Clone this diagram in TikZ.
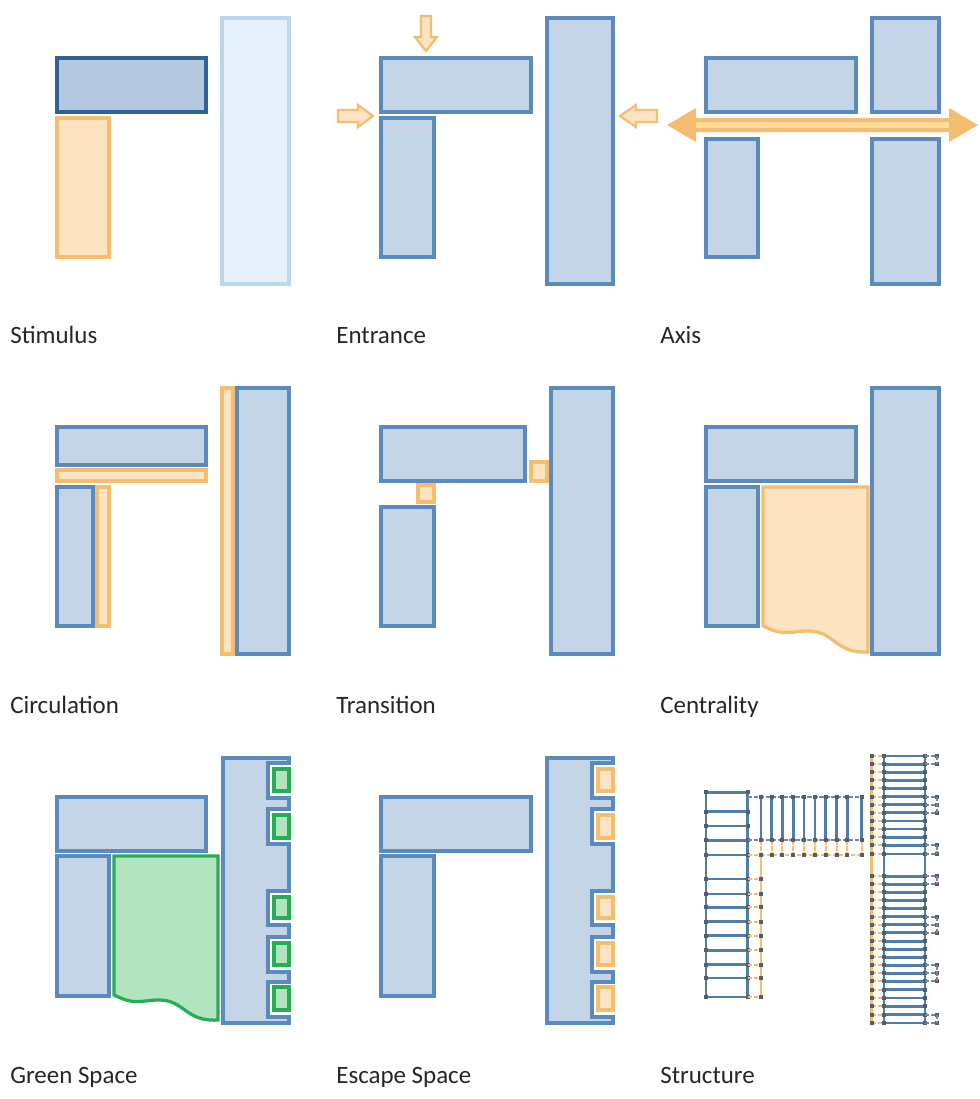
\documentclass[tikz,border=0pt]{standalone}
\usepackage{fontspec}
\setmainfont[Ligatures=Common]{Carlito}
\definecolor{wingfill}{HTML}{C5D5E8}
\definecolor{wingline}{HTML}{5B8BBA}
\definecolor{darkline}{HTML}{2F6299}
\definecolor{darkfill}{HTML}{B4C8E0}
\definecolor{palefill}{HTML}{E6F0FA}
\definecolor{paleline}{HTML}{BCD6EE}
\definecolor{orangefill}{HTML}{FCE3C1}
\definecolor{orangeline}{HTML}{F5BD6F}
\definecolor{axisband}{HTML}{FDDC9C}
\definecolor{greenfill}{HTML}{B2E4C0}
\definecolor{greenline}{HTML}{27AE55}
\definecolor{piercolor}{HTML}{4F5F70}
\begin{document}
\begin{tikzpicture}[
    x=0.02cm, y=-0.02cm,
    wing/.style={draw=wingline, fill=wingfill, line width=1.85pt},
    focus/.style={draw=darkline, fill=darkfill, line width=1.85pt},
    pale/.style={draw=paleline, fill=palefill, line width=1.85pt},
    warm/.style={draw=orangeline, fill=orangefill, line width=1.85pt},
    garden/.style={draw=greenline, fill=greenfill, line width=1.85pt},
    caption/.style={anchor=base west, inner sep=0pt, font=\fontsize{14.2}{17}\selectfont, text=black!85},
    beam/.style={wingline!90!black, line width=1.35pt},
    beamwarm/.style={orangeline, line width=1.35pt},
    tie/.style={piercolor!75, line width=1.1pt, dash pattern=on 2.4pt off 1pt},
    tiewarm/.style={orangeline, line width=1.3pt, dash pattern=on 2.4pt off 1pt},
    pier/.style={piercolor}
  ]
    \useasboundingbox (0,0) rectangle (980,1099);

    % Stimulus
    \draw[focus] (57,58) rectangle (206,112);
    \draw[warm] (57,118) rectangle (109,257);
    \draw[pale] (222,18) rectangle (289,284);
    \node[caption] (stimulus) at (10,343) {Stimulus};

    % Entrance
    \draw[wing] (381,58) rectangle (531,112);
    \draw[wing] (381,118) rectangle (434,257);
    \draw[wing] (547,18) rectangle (613,284);
    \draw[warm, line width=1.3pt] (421,16) -- (431,16) -- (431,37) -- (437,37) -- (426,51) -- (415,37) -- (421,37) -- cycle;
    \draw[warm, line width=1.3pt] (338,110) -- (358,110) -- (358,105) -- (373,116) -- (358,127) -- (358,122) -- (338,122) -- cycle;
    \draw[warm, line width=1.3pt] (657,110) -- (636,110) -- (636,105) -- (620,116) -- (636,127) -- (636,122) -- (657,122) -- cycle;
    \node[caption] (entrance) at (336,343) {Entrance};

    % Axis
    \draw[wing] (706,58) rectangle (856,112);
    \draw[wing] (872,18) rectangle (939,112);
    \draw[wing] (706,139) rectangle (758,257);
    \draw[wing] (872,139) rectangle (939,284);
    \fill[orangeline] (667,125) -- (696,108) -- (696,118) -- (949,118) -- (949,108) -- (978,125) -- (949,142) -- (949,132) -- (696,132) -- (696,142) -- cycle;
    \fill[axisband] (696,122) rectangle (949,128);
    \node[caption] (axis) at (660,343) {Axis};

    % Circulation
    \draw[wing] (57,427) rectangle (206,465);
    \draw[warm] (57,470) rectangle (206,481);
    \draw[wing] (57,487) rectangle (93,626);
    \draw[warm] (97,487) rectangle (109,626);
    \draw[warm] (222,388) rectangle (233,654);
    \draw[wing] (237,388) rectangle (289,654);
    \node[caption] (circulation) at (10,713) {Circulation};

    % Transition
    \draw[wing] (381,427) rectangle (525,481);
    \draw[warm] (531,462) rectangle (547,481);
    \draw[warm] (418,485) rectangle (434,502);
    \draw[wing] (381,507) rectangle (434,626);
    \draw[wing] (551,388) rectangle (613,654);
    \node[caption] (transition) at (336,713) {Transition};

    % Centrality
    \draw[wing] (706,427) rectangle (856,481);
    \draw[wing] (706,487) rectangle (758,626);
    \draw[wing] (872,388) rectangle (939,654);
    \draw[warm] (763,487) -- (868,487) -- (868,652) .. controls (835,654) and (835,631) .. (808,631) .. controls (790,631) and (785,637) .. (763,626) -- cycle;
    \node[caption] (centrality) at (660,713) {Centrality};

    % Green Space
    \draw[wing] (57,797) rectangle (206,851);
    \draw[wing] (57,856) rectangle (109,996);
    \draw[garden] (114,856) -- (218,856) -- (218,1020) .. controls (185,1022) and (185,1000) .. (159,1000) .. controls (141,1000) and (136,1006) .. (114,995) -- cycle;
    \draw[wing] (223,758) -- (289,758) -- (289,763) -- (268,763) -- (268,798) -- (289,798) -- (289,809) -- (268,809) -- (268,844) -- (289,844) -- (289,891) -- (268,891) -- (268,925) -- (289,925) -- (289,937) -- (268,937) -- (268,972) -- (289,972) -- (289,982) -- (268,982) -- (268,1017) -- (289,1017) -- (289,1023) -- (223,1023) -- cycle;
    \foreach \ya/\yb in {769/791, 815/838, 897/918, 943/965, 987/1010}
      \draw[garden] (274,\ya) rectangle (289,\yb);
    \node[caption] (greenspace) at (10,1083) {Green Space};

    % Escape Space
    \draw[wing] (381,797) rectangle (531,851);
    \draw[wing] (381,856) rectangle (434,996);
    \draw[wing] (547,758) -- (613,758) -- (613,763) -- (592,763) -- (592,798) -- (613,798) -- (613,809) -- (592,809) -- (592,844) -- (613,844) -- (613,891) -- (592,891) -- (592,925) -- (613,925) -- (613,937) -- (592,937) -- (592,972) -- (613,972) -- (613,982) -- (592,982) -- (592,1017) -- (613,1017) -- (613,1023) -- (547,1023) -- cycle;
    \foreach \ya/\yb in {769/791, 815/838, 897/918, 943/965, 987/1010}
      \draw[warm] (598,\ya) rectangle (613,\yb);
    \node[caption] (escapespace) at (336,1083) {Escape Space};

    % Structure
    \begin{scope}[shift={(680,740)}, x=0.00667cm, y=-0.00667cm]
      % left wing
      \draw[beam] (78,157) -- (78,771);
      \draw[beam] (203,157) -- (203,771);
      \draw[beamwarm] (243,345) -- (243,771);
      \foreach \row in {157,215,258,301,345,417,462,502,545,587,631,674,714,771} {
        \draw[beam] (78,\row) -- (203,\row);
        \fill[pier] (78,\row) +(-6,-6) rectangle +(6,6);
        \fill[pier] (203,\row) +(-6,-6) rectangle +(6,6);
      }
      \foreach \row in {345,417,462,502,545,587,631,674,714,771} {
        \draw[tiewarm] (203,\row) -- (243,\row);
        \fill[pier] (243,\row) +(-6,-6) rectangle +(6,6);
      }
      % top wing
      \draw[tie] (203,172) -- (545,172);
      \draw[tie] (203,301) -- (545,301);
      \draw[tiewarm] (243,345) -- (545,345);
      \foreach \col in {243,275,307,340,372,405,437,470,502,545} {
        \draw[beam] (\col,172) -- (\col,301);
        \draw[tiewarm] (\col,301) -- (\col,345);
        \foreach \row in {172,301,345}
          \fill[pier] (\col,\row) +(-6,-6) rectangle +(6,6);
      }
      % right wing
      \draw[beamwarm] (575,48) -- (575,849);
      \draw[beam] (612,48) -- (612,849);
      \draw[beam] (735,48) -- (735,849);
      \foreach \row in {48,73,97,121,145,170,194,218,243,267,292,316,342,409,433,457,481,505,530,554,578,604,628,652,676,700,724,749,774,799,824,849} {
        \draw[tiewarm] (575,\row) -- (612,\row);
        \draw[beam] (612,\row) -- (735,\row);
        \fill[pier] (575,\row) +(-6,-6) rectangle +(6,6);
        \fill[pier] (612,\row) +(-6,-6) rectangle +(6,6);
        \fill[pier] (735,\row) +(-6,-6) rectangle +(6,6);
      }
      \foreach \row in {48,73,170,194,218,316,342,409,433,530,554,578,676,700,724,824,849} {
        \draw[tie] (735,\row) -- (772,\row);
        \fill[pier] (772,\row) +(-6,-6) rectangle +(6,6);
      }
      \foreach \ya/\yb in {48/73, 170/218, 316/342, 409/433, 530/578, 676/724, 824/849}
        \draw[tie] (772,\ya) -- (772,\yb);
    \end{scope}
    \node[caption] (structure) at (660,1083) {Structure};
  \end{tikzpicture}
\end{document}
